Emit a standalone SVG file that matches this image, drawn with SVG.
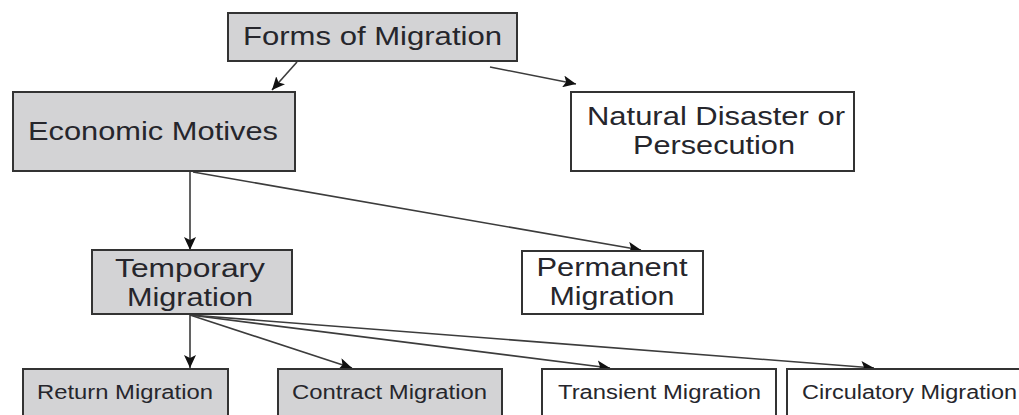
<svg xmlns="http://www.w3.org/2000/svg" width="1019" height="415" viewBox="0 0 1019 415">
  <style>
    .box { stroke: #333; stroke-width: 2; }
    .shaded { fill: #d3d3d5; }
    .plain { fill: #ffffff; }
    .lbl { font-family: "Liberation Sans", Arial, sans-serif; fill: #26262c; text-anchor: middle; }
    .big { font-size: 25px; }
    .small { font-size: 20px; }
    .edge { stroke: #3c3c3c; stroke-width: 1.6; fill: none; marker-end: url(#arrow); }
  </style>
  <defs>
    <marker id="arrow" markerWidth="14" markerHeight="12" refX="13" refY="6" orient="auto" markerUnits="userSpaceOnUse">
      <path d="M0,0 L13,6 L0,12 L3,6 z" fill="#111"/>
    </marker>
  </defs>
  <rect width="1019" height="415" fill="#ffffff"/>

  <!-- connectors -->
  <g id="connectors">
    <line class="edge" x1="297" y1="62" x2="272" y2="90"/>
    <line class="edge" x1="490" y1="67" x2="576" y2="84"/>
    <line class="edge" x1="190" y1="172" x2="190" y2="250"/>
    <line class="edge" x1="193" y1="172" x2="641" y2="250"/>
    <line class="edge" x1="190" y1="315" x2="190" y2="368"/>
    <line class="edge" x1="190" y1="315" x2="352" y2="368"/>
    <line class="edge" x1="190" y1="315" x2="610" y2="368"/>
    <line class="edge" x1="190" y1="315" x2="874" y2="368"/>
  </g>

  <!-- level 0 -->
  <g id="forms">
    <rect class="box shaded" x="228" y="13" width="289" height="48"/>
    <text class="lbl big" x="372.5" y="45" textLength="259" lengthAdjust="spacingAndGlyphs">Forms of Migration</text>
  </g>

  <!-- level 1 -->
  <g id="economic">
    <rect class="box shaded" x="13" y="92" width="282" height="79"/>
    <text class="lbl big" x="153" y="140" textLength="250" lengthAdjust="spacingAndGlyphs">Economic Motives</text>
  </g>
  <g id="natural">
    <rect class="box plain" x="571" y="92" width="283" height="79"/>
    <text class="lbl big" x="716" y="125" textLength="258" lengthAdjust="spacingAndGlyphs">Natural Disaster or</text>
    <text class="lbl big" x="714" y="154" textLength="162" lengthAdjust="spacingAndGlyphs">Persecution</text>
  </g>

  <!-- level 2 -->
  <g id="temporary">
    <rect class="box shaded" x="92" y="250" width="200" height="64"/>
    <text class="lbl big" x="190" y="277" textLength="150" lengthAdjust="spacingAndGlyphs">Temporary</text>
    <text class="lbl big" x="190" y="306" textLength="126" lengthAdjust="spacingAndGlyphs">Migration</text>
  </g>
  <g id="permanent">
    <rect class="box plain" x="522" y="251" width="181" height="63"/>
    <text class="lbl big" x="612" y="276" textLength="151" lengthAdjust="spacingAndGlyphs">Permanent</text>
    <text class="lbl big" x="612" y="305" textLength="125" lengthAdjust="spacingAndGlyphs">Migration</text>
  </g>

  <!-- level 3 -->
  <g id="return">
    <rect class="box shaded" x="23" y="369" width="205" height="60"/>
    <text class="lbl small" x="125" y="399" textLength="176" lengthAdjust="spacingAndGlyphs">Return Migration</text>
  </g>
  <g id="contract">
    <rect class="box shaded" x="278" y="369" width="224" height="60"/>
    <text class="lbl small" x="389.5" y="399" textLength="195" lengthAdjust="spacingAndGlyphs">Contract Migration</text>
  </g>
  <g id="transient">
    <rect class="box plain" x="542" y="369" width="234" height="60"/>
    <text class="lbl small" x="659.5" y="399" textLength="203" lengthAdjust="spacingAndGlyphs">Transient Migration</text>
  </g>
  <g id="circulatory">
    <rect class="box plain" x="787" y="369" width="250" height="60"/>
    <text class="lbl small" x="909.5" y="399" textLength="215" lengthAdjust="spacingAndGlyphs">Circulatory Migration</text>
  </g>
</svg>
